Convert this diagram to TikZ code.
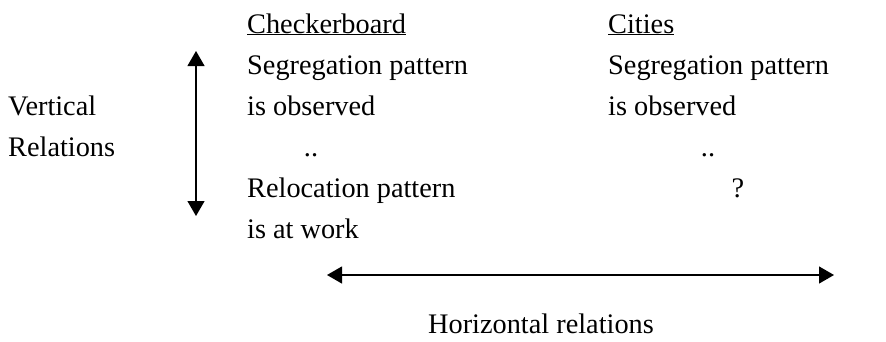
\documentclass[tikz,border=0pt]{standalone}
\usepackage{fontspec}
\setmainfont{Liberation Serif}
\usetikzlibrary{arrows.meta}
\begin{document}
\begin{tikzpicture}[x=1pt,y=-1pt,
  txt/.style={anchor=base west,inner sep=0pt,font=\fontsize{28.3}{34}\selectfont},
  txtc/.style={anchor=base,inner sep=0pt,font=\fontsize{28.3}{34}\selectfont},
  dbl/.style={line width=1.2pt,{Triangle[length=15pt,width=17pt]}-{Triangle[length=15pt,width=17pt]}}]
\useasboundingbox (0,0) rectangle (886,341);
\node[txt] (cb) at (247,33) {\underline{Checkerboard}};
\node[txt] (l1) at (247,74) {Segregation pattern};
\node[txt] (l2) at (247,115) {is observed};
\node[txtc] (l3) at (311,156) {..};
\node[txt] (l4) at (247,197) {Relocation pattern};
\node[txt] (l5) at (247,238) {is at work};
\node[txt] (ci) at (608,33) {\underline{Cities}};
\node[txt] (r1) at (608,74) {Segregation pattern};
\node[txt] (r2) at (608,115) {is observed};
\node[txtc] (r3) at (708,156) {..};
\node[txtc] (r4) at (738,197) {?};
\node[txt] (v1) at (8,115) {Vertical};
\node[txt] (v2) at (8,156) {Relations};
\node[txtc] (h) at (541,333) {Horizontal relations};
\coordinate (vt) at (196,51);
\coordinate (vb) at (196,216);
\coordinate (hl) at (327,275);
\coordinate (hr) at (834,275);
\draw[dbl] (vt) -- (vb);
\draw[dbl] (hl) -- (hr);
\end{tikzpicture}
\end{document}
